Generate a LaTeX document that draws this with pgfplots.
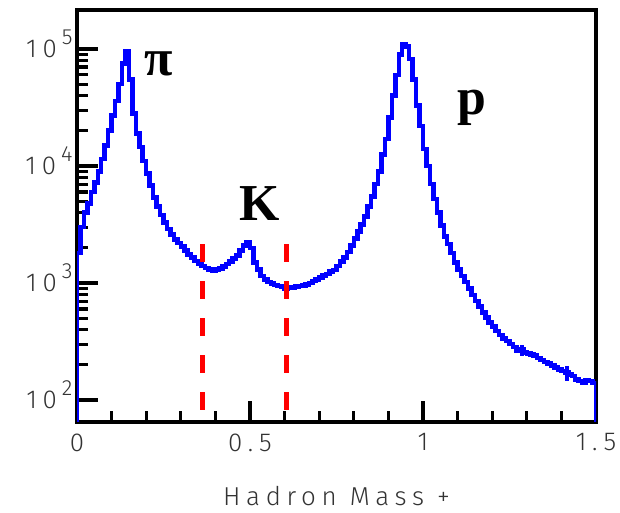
\documentclass[border=0pt]{standalone}
\usepackage{fontspec}
\usepackage{pgfplots}
\pgfplotsset{compat=1.18}
\setmainfont{Fira Sans Light}
\newfontfamily\tickfont[LetterSpace=22]{Fira Sans Light}
\newfontfamily\labfont[LetterSpace=22]{Fira Sans Light}
\newfontfamily\partfont{Liberation Serif}
\newcommand{\pw}[1]{10\hspace{5bp}\raisebox{0.5em}{\fontsize{22}{22}\selectfont #1}}

\begin{document}
\begin{tikzpicture}
\useasboundingbox (-77bp,-91bp) rectangle (543bp,422bp);
\begin{axis}[
    scale only axis,
    width=519bp, height=412bp,
    ymode=log,
    xmin=0, xmax=1.5,
    ymin=65, ymax=215000,
    axis line style={line width=4bp},
    tick align=inside,
    tick pos=left,
    major tick length=21bp,
    minor tick length=11bp,
    every tick/.style={black, line width=3.2bp},
    xtick={0,0.5,1,1.5},
    xticklabels={0,0.5,1,1.5},
    minor xtick={0.1,0.2,0.3,0.4,0.6,0.7,0.8,0.9,1.1,1.2,1.3,1.4},
    ytick={100,1000,10000,100000},
    yticklabels={\pw{2},\pw{3},\pw{4},\pw{5}},
    xticklabel style={font=\tickfont\fontsize{26}{26}\selectfont, text=black!80, yshift=-8bp},
    yticklabel style={font=\tickfont\fontsize{26}{26}\selectfont, text=black!80, anchor=base east, yshift=-8.5bp, xshift=-1bp},
    xlabel={Hadron Mass +},
    xlabel style={font=\labfont\fontsize{26}{26}\selectfont, text=black!80, anchor=center, at={(axis description cs:0.5,-0.18)}},
]
\addplot[const plot mark left, blue, line width=4.5bp] coordinates {
(0,65) (0,1800) (0.01,3000) (0.02,4000) (0.03,4800) (0.04,6000)
(0.05,7200) (0.06,9000) (0.07,11500) (0.08,15000) (0.09,20000)
(0.10,27000) (0.11,36000) (0.12,50000) (0.13,75000) (0.14,96000)
(0.15,55000) (0.16,28000) (0.17,19000) (0.18,14500) (0.19,11000)
(0.20,8600) (0.21,6800) (0.22,5400) (0.23,4500) (0.24,3800)
(0.25,3300) (0.26,2900) (0.27,2600) (0.28,2350) (0.29,2200)
(0.30,2050) (0.31,1900) (0.32,1760) (0.33,1650) (0.34,1540)
(0.35,1470) (0.36,1400) (0.37,1340) (0.38,1300) (0.39,1280)
(0.40,1300) (0.41,1330) (0.42,1380) (0.43,1450) (0.44,1530)
(0.45,1620) (0.46,1720) (0.47,1900) (0.48,2100) (0.49,2250)
(0.50,2000) (0.51,1500) (0.52,1300) (0.53,1150) (0.54,1070)
(0.55,1020) (0.56,990) (0.57,960) (0.58,940) (0.59,930)
(0.60,900) (0.61,910) (0.62,920) (0.63,930) (0.64,940)
(0.65,950) (0.66,970) (0.67,1000) (0.68,1040) (0.69,1070)
(0.70,1110) (0.71,1160) (0.72,1200) (0.73,1250) (0.74,1290)
(0.75,1400) (0.76,1530) (0.77,1650) (0.78,1850) (0.79,2100)
(0.80,2400) (0.81,2750) (0.82,3150) (0.83,3700) (0.84,4500)
(0.85,5500) (0.86,7000) (0.87,9000) (0.88,12500) (0.89,17000)
(0.90,26000) (0.91,40000) (0.92,60000) (0.93,90000) (0.94,110000)
(0.95,105000) (0.96,82000) (0.97,55000) (0.98,33000) (0.99,22000)
(1.00,14000) (1.01,10000) (1.02,7000) (1.03,5200) (1.04,4000)
(1.05,3100) (1.06,2500) (1.07,2150) (1.08,1800) (1.09,1500)
(1.10,1300) (1.11,1150) (1.12,1020) (1.13,900) (1.14,790)
(1.15,700) (1.16,630) (1.17,560) (1.18,510) (1.19,460)
(1.20,425) (1.21,390) (1.22,360) (1.23,335) (1.24,320)
(1.25,300) (1.26,285) (1.27,265) (1.28,270) (1.29,255)
(1.30,250) (1.31,245) (1.32,240) (1.33,230) (1.34,220)
(1.35,212) (1.36,205) (1.37,198) (1.38,190) (1.39,182)
(1.40,178) (1.41,172) (1.42,165) (1.43,160) (1.44,150)
(1.45,145) (1.46,140) (1.47,148) (1.48,145) (1.49,140)
(1.50,65)
};
% a few bins with visible error bars
\addplot[blue, line width=3.5bp, mark=none, draw=none, error bars/.cd, y dir=both, y explicit, error bar style={blue, line width=4bp}, error mark=none] coordinates {
(1.285,268) +- (0,30)
(1.415,172) +- (0,25)
};
% cut lines of the kaon window
\addplot[red, line width=5bp, dash pattern=on 18bp off 19bp] coordinates {(0.363,2150) (0.363,70)};
\addplot[red, line width=5bp, dash pattern=on 18bp off 19bp] coordinates {(0.606,2150) (0.606,70)};
\node[font=\partfont\bfseries\fontsize{52}{52}\selectfont, inner sep=0] at (axis cs:0.237,74000) {π};
\node[font=\partfont\bfseries\fontsize{52}{52}\selectfont, inner sep=0] at (axis cs:0.529,4800) {K};
\node[font=\partfont\bfseries\fontsize{52}{52}\selectfont, inner sep=0] at (axis cs:1.142,31700) {p};
\end{axis}
\end{tikzpicture}
\end{document}
